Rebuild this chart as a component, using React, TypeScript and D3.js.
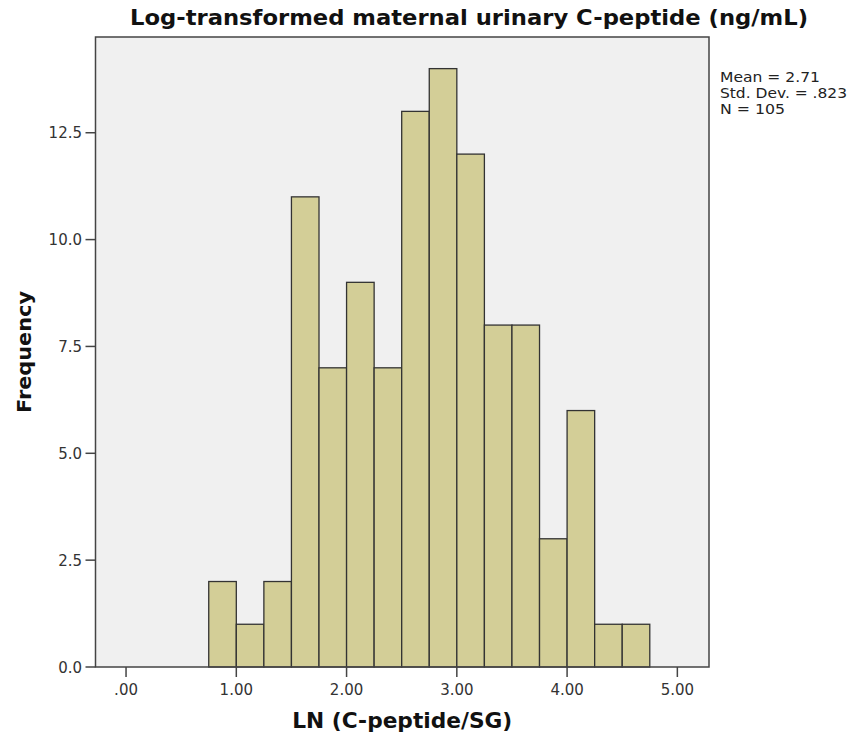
import React from "react";
import * as d3 from "d3";

const binStarts = [0.75, 1.0, 1.25, 1.5, 1.75, 2.0, 2.25, 2.5, 2.75, 3.0, 3.25, 3.5, 3.75, 4.0, 4.25, 4.5];
const counts = [2, 1, 2, 11, 7, 9, 7, 13, 14, 12, 8, 8, 3, 6, 1, 1];
const binWidth = 0.25;
const xTicks = [0, 1, 2, 3, 4, 5];
const xTickLabels = [".00", "1.00", "2.00", "3.00", "4.00", "5.00"];
const yTicks = [0, 2.5, 5, 7.5, 10, 12.5];
const yTickLabels = ["0.0", "2.5", "5.0", "7.5", "10.0", "12.5"];
const statsLines = ["Mean = 2.71", "Std. Dev. = .823", "N = 105"];
const statsWidths = [100, 127, 65];
const title = "Log-transformed maternal urinary C-peptide (ng/mL)";
const xLabel = "LN (C-peptide/SG)";
const yLabel = "Frequency";

const W = 852;
const H = 738;
const left = 95.5;
const right = 709;
const top = 37;
const bottom = 667;
const font = "'DejaVu Sans', 'Lucida Grande', sans-serif";

export default function App() {
  const x = d3.scaleLinear().domain([-0.277, 5.287]).range([left, right]);
  const y = d3.scaleLinear().domain([0, 14.74]).range([bottom, top]);

  return (
    <svg
      width={W}
      height={H}
      style={{ position: "absolute", left: 0, top: 0, background: "#fff" }}
      fontFamily={font}
    >
      <rect x={left} y={top} width={right - left} height={bottom - top} fill="#f0f0f0" />
      {counts.map((c, i) => (
        <rect
          key={i}
          x={x(binStarts[i])}
          y={y(c)}
          width={x(binStarts[i] + binWidth) - x(binStarts[i])}
          height={y(0) - y(c)}
          fill="#d3ce97"
          stroke="#333"
          strokeWidth={1.3}
        />
      ))}
      <rect x={left} y={top} width={right - left} height={bottom - top} fill="none" stroke="#444" strokeWidth={1.5} />
      {xTicks.map((t, i) => (
        <g key={i}>
          <line x1={x(t)} x2={x(t)} y1={bottom} y2={bottom + 10} stroke="#444" strokeWidth={1.5} />
          <text x={x(t)} y={695} textAnchor="middle" fontSize={15} fill="#333">
            {xTickLabels[i]}
          </text>
        </g>
      ))}
      {yTicks.map((t, i) => (
        <g key={i}>
          <line x1={left - 10} x2={left} y1={y(t)} y2={y(t)} stroke="#444" strokeWidth={1.5} />
          <text x={82} y={y(t) + 5.5} textAnchor="end" fontSize={15} fill="#333">
            {yTickLabels[i]}
          </text>
        </g>
      ))}
      <text x={130} y={25} fontSize={22} fontWeight="bold" fill="#111" textLength={678} lengthAdjust="spacingAndGlyphs">
        {title}
      </text>
      <text
        x={(left + right) / 2}
        y={728}
        textAnchor="middle"
        fontSize={21}
        fontWeight="bold"
        fill="#111"
        textLength={220}
        lengthAdjust="spacingAndGlyphs"
      >
        {xLabel}
      </text>
      <text
        transform={`translate(31, ${(top + bottom) / 2}) rotate(-90)`}
        textAnchor="middle"
        fontSize={20}
        fontWeight="bold"
        fill="#111"
        textLength={122}
        lengthAdjust="spacingAndGlyphs"
      >
        {yLabel}
      </text>
      {statsLines.map((s, i) => (
        <text
          key={i}
          x={720}
          y={81.5 + i * 16}
          fontSize={13.5}
          fill="#222"
          textLength={statsWidths[i]}
          lengthAdjust="spacingAndGlyphs"
        >
          {s}
        </text>
      ))}
    </svg>
  );
}
